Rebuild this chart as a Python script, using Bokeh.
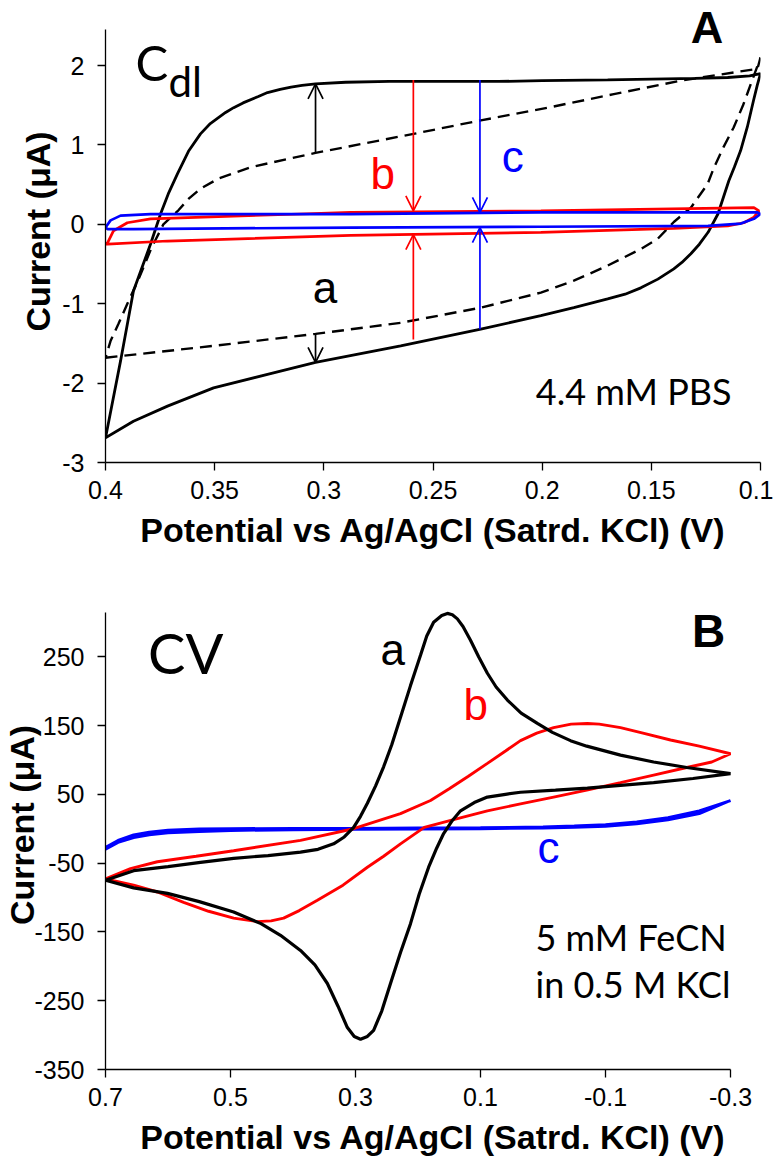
from bokeh.plotting import figure
from bokeh.models import Range1d, FixedTicker, Label, Arrow, OpenHead
from bokeh.layouts import column
from bokeh.embed import file_html
from bokeh.resources import INLINE

# ---------------- Panel A data (Cdl, 4.4 mM PBS) ----------------
a_solid_v = [0.4, 0.3931, 0.3872, 0.3794, 0.3748, 0.3710, 0.3670, 0.3620, 0.3565, 0.3520,
             0.3450, 0.3413, 0.3370, 0.3300, 0.3258, 0.3200, 0.315, 0.3100, 0.3038, 0.29,
             0.27, 0.25, 0.22, 0.2, 0.17, 0.15, 0.13, 0.115, 0.105, 0.1,
             0.1015, 0.1032, 0.1060, 0.1091, 0.1120, 0.1145, 0.1195, 0.124, 0.128, 0.1319,
             0.1360, 0.1397, 0.147, 0.1548, 0.1620, 0.1700, 0.1855, 0.2006, 0.2281, 0.2648,
             0.3038, 0.3258, 0.3505, 0.3716, 0.3872, 0.4]
a_solid_i = [-2.69, -1.72, -0.84, -0.25, 0.13, 0.40, 0.64, 0.92, 1.14, 1.27,
             1.41, 1.47, 1.53, 1.61, 1.66, 1.70, 1.73, 1.75, 1.77, 1.79,
             1.80, 1.80, 1.80, 1.81, 1.82, 1.83, 1.84, 1.85, 1.87, 1.90,
             1.75, 1.56, 1.23, 0.93, 0.72, 0.55, 0.13, -0.10, -0.25, -0.37,
             -0.48, -0.56, -0.69, -0.80, -0.88, -0.94, -1.05, -1.15, -1.32, -1.53,
             -1.74, -1.89, -2.06, -2.29, -2.48, -2.69]

a_dash_v = [0.4, 0.3503, 0.3038, 0.2648, 0.2281, 0.2006, 0.1855, 0.17, 0.1548, 0.147, 0.1397,
            0.1319, 0.1242, 0.1214, 0.1170, 0.1123, 0.1080, 0.1044, 0.1, 0.1014, 0.1365,
            0.1672, 0.1974, 0.2281, 0.2589, 0.3038, 0.3336, 0.3480, 0.3565, 0.3620, 0.3665,
            0.3735, 0.379, 0.385, 0.390, 0.394, 0.3977, 0.4]
a_dash_i = [-1.68, -1.53, -1.38, -1.24, -1.05, -0.86, -0.71, -0.52, -0.31, -0.18, 0.03,
            0.21, 0.51, 0.71, 0.97, 1.22, 1.50, 1.77, 2.10, 1.96, 1.81,
            1.64, 1.47, 1.31, 1.14, 0.90, 0.72, 0.58, 0.45, 0.32, 0.18,
            0.0, -0.30, -0.70, -1.00, -1.25, -1.47, -1.68]

b_red_v = [0.4, 0.399, 0.3963, 0.39, 0.3794, 0.2877, 0.2006, 0.103, 0.1007, 0.103, 0.1076,
           0.115, 0.1397, 0.2006, 0.2877, 0.3716, 0.399, 0.4]
b_red_i = [-0.25, -0.23, -0.08, 0.02, 0.07, 0.15, 0.17, 0.21, 0.17, 0.09, 0.02,
           -0.02, -0.05, -0.10, -0.14, -0.21, -0.25, -0.25]

c_blue_v = [0.4, 0.3977, 0.3931, 0.3794, 0.2877, 0.2006, 0.1014, 0.1, 0.103, 0.109, 0.124,
            0.2006, 0.2877, 0.3872, 0.399, 0.4]
c_blue_i = [-0.04, 0.05, 0.11, 0.13, 0.13, 0.15, 0.15, 0.13, 0.07, 0.01, -0.02,
            -0.03, -0.04, -0.06, -0.06, -0.04]

# arrows in panel A: x position, start current, end current, colour
arrow_x = [0.3038, 0.3038, 0.259, 0.259, 0.2285, 0.2285]
arrow_from = [0.90, -1.38, 1.82, -1.45, 1.82, -1.32]
arrow_to = [1.77, -1.74, 0.17, -0.13, 0.15, -0.04]
arrow_color = ["black", "black", "red", "red", "blue", "blue"]

a_xticks = [0.4, 0.35, 0.3, 0.25, 0.2, 0.15, 0.1]
a_xlabels = ["0.4", "0.35", "0.3", "0.25", "0.2", "0.15", "0.1"]
a_yticks = [-3, -2, -1, 0, 1, 2]
a_ylabels = ["-3", "-2", "-1", "0", "1", "2"]

# ---------------- Panel B data (CV, 5 mM FeCN) ----------------
ba_v = [0.7, 0.655, 0.6008, 0.55, 0.495, 0.4512, 0.42, 0.388, 0.365, 0.345, 0.328, 0.313,
        0.302, 0.292, 0.281, 0.271, 0.258, 0.244, 0.228, 0.212, 0.198, 0.183, 0.170, 0.159,
        0.145, 0.132, 0.110, 0.089, 0.06, 0.036, -0.02, -0.071, -0.124, -0.177, -0.24, -0.3,
        -0.23, -0.177, -0.124, -0.07, -0.044, -0.015, 0.009, 0.035, 0.057, 0.075, 0.089,
        0.103, 0.116, 0.128, 0.137, 0.145, 0.153, 0.162, 0.175, 0.186, 0.196, 0.212, 0.228,
        0.242, 0.255, 0.268, 0.281, 0.292, 0.303, 0.318, 0.335, 0.36, 0.388, 0.44, 0.495,
        0.548, 0.6, 0.655, 0.7]
ba_i = [-75, -86, -94, -106, -121, -138, -155, -177, -198, -225, -258, -289,
        -302, -306, -302, -293, -265, -225, -180, -138, -95, -56, -28, -7,
        12, 26, 38, 46, 50, 53, 56, 59, 63, 67, 73, 80,
        89, 97, 107, 120, 128, 140, 153, 168, 187, 206, 226,
        250, 274, 294, 305, 311, 313, 310, 300, 280, 252, 208, 162,
        122, 90, 62, 37, 18, 2, -12, -22, -30, -34, -39, -43,
        -49, -55, -61, -75]

bb_v = [0.7, 0.655, 0.617, 0.575, 0.535, 0.495, 0.457, 0.435, 0.415, 0.39, 0.361, 0.32,
        0.281, 0.255, 0.228, 0.19, 0.14, 0.089, 0.036, -0.017, -0.07, -0.124, -0.177, -0.23,
        -0.27, -0.3, -0.25, -0.204, -0.16, -0.124, -0.09, -0.071, -0.045, -0.017, 0.01,
        0.036, 0.06, 0.089, 0.12, 0.15, 0.18, 0.228, 0.303, 0.388, 0.495, 0.555, 0.617,
        0.66, 0.7]
bb_i = [-73, -82, -92, -107, -120, -130, -135, -134, -130, -119, -104, -82,
        -56, -40, -22, 2, 14, 26, 36, 46, 56, 67, 78, 89,
        97, 109, 120, 129, 139, 147, 152, 153, 152, 147, 139,
        128, 113, 95, 76, 58, 41, 22, 0, -17, -32, -40, -48,
        -58, -73]

bc_v = [0.7, 0.68, 0.655, 0.63, 0.6, 0.55, 0.5, 0.4, 0.3, 0.2, 0.1, 0.0, -0.05, -0.1,
        -0.15, -0.2, -0.25, -0.3, -0.25, -0.2, -0.15, -0.1, -0.05, 0.0, 0.1, 0.2, 0.3,
        0.4, 0.5, 0.55, 0.6, 0.63, 0.655, 0.68, 0.7]
bc_i = [-27, -17, -9, -5, -2, -0.5, 0, 0.5, 0.5, 1, 1.5, 2.5, 4, 6,
        10, 16, 26, 41, 22, 13, 7, 3.5, 2, 1, 0, -0.5, -1,
        -1.5, -2.5, -4, -6, -9, -13, -20, -30]

b_xticks = [0.7, 0.5, 0.3, 0.1, -0.1, -0.3]
b_xlabels = ["0.7", "0.5", "0.3", "0.1", "-0.1", "-0.3"]
b_yticks = [-350, -250, -150, -50, 50, 150, 250]
b_ylabels = ["-350", "-250", "-150", "-50", "50", "150", "250"]

XLABEL = "Potential vs Ag/AgCl (Satrd. KCl) (V)"
YLABEL = "Current (\u03bcA)"

ARIAL = "Liberation Sans"
CAL = "Lato"


def style(p, xt, xl, yt, yl, xbounds, ybounds, ylab_standoff):
    p.grid.visible = False
    p.outline_line_color = None
    p.background_fill_color = "white"
    p.border_fill_color = "white"
    for ax in (p.xaxis[0], p.yaxis[0]):
        ax.axis_line_color = "black"
        ax.axis_line_width = 1.3
        ax.major_tick_line_color = "black"
        ax.major_tick_line_width = 1.3
        ax.major_tick_in = 0
        ax.major_tick_out = 8
        ax.minor_tick_line_color = None
        ax.major_label_text_font = ARIAL
        ax.major_label_text_font_size = "25px"
        ax.major_label_text_color = "black"
        ax.axis_label_text_font = ARIAL
        ax.axis_label_text_font_style = "bold"
        ax.axis_label_text_font_size = "34px"
        ax.axis_label_text_color = "black"
    p.xaxis[0].ticker = FixedTicker(ticks=xt)
    p.xaxis[0].major_label_overrides = dict(zip(xt, xl))
    p.yaxis[0].ticker = FixedTicker(ticks=yt)
    p.yaxis[0].major_label_overrides = dict(zip(yt, yl))
    p.xaxis[0].bounds = xbounds
    p.yaxis[0].bounds = ybounds
    p.xaxis[0].axis_label = XLABEL
    p.yaxis[0].axis_label = YLABEL
    p.xaxis[0].major_label_standoff = 10
    p.xaxis[0].axis_label_standoff = 9
    p.yaxis[0].major_label_standoff = 13
    p.yaxis[0].axis_label_standoff = ylab_standoff


def lab(p, x, y, text, font, size, color="black", style="normal"):
    p.add_layout(Label(x=x, y=y, text=text, text_font=font, text_font_size=size,
                       text_color=color, text_font_style=style,
                       text_align="left", text_baseline="bottom"))


# ---------------- Figure A ----------------
pa = figure(width=773, height=580, x_range=Range1d(0.4, 0.1), y_range=Range1d(-3, 2.82),
            output_backend="svg", toolbar_location=None,
            min_border_left=105, min_border_right=13, min_border_top=0, min_border_bottom=118)
style(pa, a_xticks, a_xlabels, a_yticks, a_ylabels, (0.1, 0.4), (-3, 2.454), 2)

pa.line(a_dash_v, a_dash_i, line_color="black", line_width=2.4, line_dash="12 7")
pa.line(a_solid_v, a_solid_i, line_color="black", line_width=2.8)
pa.line(b_red_v, b_red_i, line_color="red", line_width=2.7)
pa.line(c_blue_v, c_blue_i, line_color="blue", line_width=2.7)

for xv, y0, y1, col in zip(arrow_x, arrow_from, arrow_to, arrow_color):
    pa.add_layout(Arrow(end=OpenHead(size=15, line_color=col, line_width=1.7),
                        x_start=xv, y_start=y0, x_end=xv, y_end=y1,
                        line_color=col, line_width=1.7))

lab(pa, 0.3863, 1.68, "C", CAL, "49px")
lab(pa, 0.3711, 1.49, "dl", CAL, "42px")
lab(pa, 0.2786, 0.33, "b", ARIAL, "44px", "red")
lab(pa, 0.2185, 0.54, "c", ARIAL, "44px", "blue")
lab(pa, 0.3051, -1.10, "a", ARIAL, "44px")
lab(pa, 0.1320, 2.16, "A", ARIAL, "45px", style="bold")
lab(pa, 0.2029, -2.38, "4.4 mM PBS", CAL, "36px")

# ---------------- Figure B ----------------
pb = figure(width=773, height=579, x_range=Range1d(0.7, -0.348), y_range=Range1d(-350, 360.8),
            output_backend="svg", toolbar_location=None,
            min_border_left=105, min_border_right=13, min_border_top=0, min_border_bottom=90)
style(pb, b_xticks, b_xlabels, b_yticks, b_ylabels, (-0.3, 0.7), (-350, 314), -10)

pb.line(bc_v, bc_i, line_color="blue", line_width=2.9)
pb.line(bb_v, bb_i, line_color="red", line_width=2.9)
pb.line(ba_v, ba_i, line_color="black", line_width=3.2)

lab(pb, 0.632, 207, "CV", CAL, "56px")
lab(pb, 0.26, 225, "a", ARIAL, "44px")
lab(pb, 0.1272, 145, "b", ARIAL, "44px", "red")
lab(pb, 0.0088, -63, "c", ARIAL, "44px", "blue")
lab(pb, -0.2385, 249, "B", ARIAL, "46px", style="bold")
lab(pb, 0.012, -190, "5 mM FeCN", CAL, "36px")
lab(pb, 0.012, -257, "in 0.5 M KCl", CAL, "36px")

layout = column(pa, pb)
open("out.html", "w").write(file_html(layout, INLINE))
